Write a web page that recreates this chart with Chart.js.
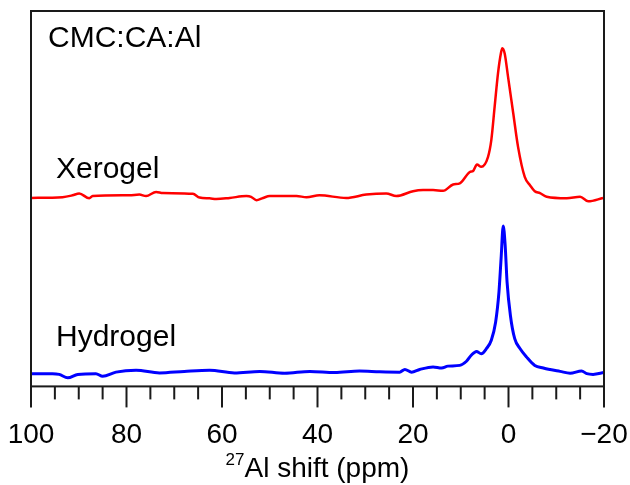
<!DOCTYPE html>
<html>
<head>
<meta charset="utf-8">
<script src="https://cdn.jsdelivr.net/npm/chart.js@4.4.1/dist/chart.umd.min.js"></script>
<style>
  html, body { margin: 0; padding: 0; background: #fff; }
  #wrap { width: 630px; height: 485px; }
</style>
</head>
<body>
<div id="wrap"><canvas id="NmrChart" width="630" height="485"></canvas></div>
<script>
// 27Al shift (ppm) and intensity (a.u., stacked, hydrogel at bottom)
var xeroShift = [100.3, 93.4, 91.3, 89.9, 87.8, 87.1, 79.4, 77.3, 75.9, 73.8, 72.4, 66.1, 64.7, 62.6, 61.2, 58.4,
  54.9, 53.9, 52.8, 51.4, 50.0, 44.4, 42.3, 39.6, 34.0, 29.8, 25.6, 23.5, 20.0, 17.9, 15.8, 13.7, 11.6, 10.2,
  8.1, 7.4, 6.6, 5.7, 4.3, 3.6, 2.9, 2.2, 1.6, 1.3, 0.8, 0.1, -1.0, -2.0, -3.4, -4.5, -5.5, -6.6, -8.0,
  -12.2, -15.0, -16.7, -19.8];
var xeroInt = [50.2, 50.4, 50.9, 51.4, 50.1, 50.7, 50.9, 51.1, 50.7, 51.8, 51.5, 51.3, 50.3, 50.1, 49.9, 50.2,
  50.7, 50.5, 49.6, 50.2, 50.7, 50.7, 50.4, 50.9, 50.2, 51.1, 51.4, 50.7, 52.0, 52.3, 52.3, 52.1, 53.8, 54.1,
  57.1, 57.4, 59.1, 58.5, 61.1, 65.6, 74.5, 83.4, 88.7, 90.1, 88.7, 82.5, 72.7, 63.8, 55.8, 53.6, 52.0, 51.5, 50.5,
  50.1, 50.5, 49.3, 50.2];

var hydroShift = [100, 95.5, 94.1, 92.3, 90.2, 86.4, 85.0, 82.2, 78.0, 73.1, 67.9, 62.6, 57.4, 52.1, 46.9, 41.6,
  36.4, 31.2, 27.0, 22.8, 21.7, 20.3, 18.6, 15.8, 14.0, 12.7, 10.2, 8.8, 7.8, 6.7, 5.7, 4.6, 3.6, 2.7, 2.0,
  1.55, 1.1, 0.7, 0.3, -0.4, -1.3, -2.4, -3.8, -5.5, -7.3, -8.7, -10.8, -12.9, -15.3, -16.4, -17.7, -20];
var hydroInt = [3.4, 3.4, 3.2, 2.3, 3.2, 3.4, 2.7, 3.8, 4.3, 3.6, 4.0, 4.3, 3.6, 4.0, 3.5, 4.0,
  3.7, 4.1, 3.9, 3.8, 4.5, 3.8, 4.5, 5.2, 4.9, 5.4, 5.6, 6.7, 8.3, 9.3, 8.7, 10.1, 12.3, 17.1, 25.1,
  34.1, 42.7, 37.6, 27.8, 18.9, 12.7, 10.1, 7.8, 5.6, 4.9, 4.5, 4.0, 3.5, 4.1, 3.4, 3.2, 3.7];

var majorTicks = [100, 80, 60, 40, 20, 0, -20];

function toPoints(xs, ys) {
  return xs.map(function (x, i) { return { x: x, y: ys[i] }; });
}

Chart.defaults.font.family = "'Liberation Sans', Arial, sans-serif";
Chart.defaults.color = "#000";

// frame, tick marks and the axis title with superscript
var framePlugin = {
  id: "frame",
  afterDraw: function (chart) {
    var ctx = chart.ctx;
    var a = chart.chartArea;
    var xs = chart.scales.x;
    ctx.save();
    ctx.strokeStyle = "#1a1a1a";
    ctx.lineWidth = 2;
    ctx.strokeRect(a.left, a.top, a.right - a.left, a.bottom - a.top);
    xs.ticks.forEach(function (t) {
      var px = xs.getPixelForValue(t.value);
      var len = majorTicks.indexOf(t.value) >= 0 ? 21 : 13;
      ctx.beginPath();
      ctx.moveTo(px, a.bottom);
      ctx.lineTo(px, a.bottom + len);
      ctx.stroke();
    });

    // axis title
    var sup = "27", main = "Al shift (ppm)";
    ctx.fillStyle = "#000";
    ctx.textBaseline = "alphabetic";
    ctx.font = "17px 'Liberation Sans', Arial, sans-serif";
    var wSup = ctx.measureText(sup).width;
    ctx.font = "28px 'Liberation Sans', Arial, sans-serif";
    var wMain = ctx.measureText(main).width;
    var x0 = (a.left + a.right) / 2 - (wSup + wMain) / 2;
    ctx.fillText(main, x0 + wSup, 477);
    ctx.font = "17px 'Liberation Sans', Arial, sans-serif";
    ctx.fillText(sup, x0, 465);

    // sample labels
    ctx.font = "30px 'Liberation Sans', Arial, sans-serif";
    ctx.fillText("CMC:CA:Al", 48, 47);
    ctx.fillText("Xerogel", 56, 178);
    ctx.fillText("Hydrogel", 56, 346);
    ctx.restore();
  }
};

var ctx = document.getElementById("NmrChart").getContext("2d");
var chart = new Chart(ctx, {
  type: "line",
  data: {
    datasets: [
      {
        label: "Xerogel",
        data: toPoints(xeroShift, xeroInt),
        borderColor: "rgb(255, 0, 0)",
        borderWidth: 2.5,
        pointRadius: 0,
        cubicInterpolationMode: "monotone",
      },
      {
        label: "Hydrogel",
        data: toPoints(hydroShift, hydroInt),
        borderColor: "rgb(0, 0, 255)",
        borderWidth: 3,
        pointRadius: 0,
        cubicInterpolationMode: "monotone",
      },
    ],
  },
  options: {
    responsive: false,
    animation: false,
    layout: {
      padding: { left: 31, right: 26, top: 11, bottom: 33 },
    },
    plugins: {
      legend: { display: false },
      tooltip: { enabled: false },
    },
    scales: {
      x: {
        type: "linear",
        reverse: true,
        min: -20,
        max: 100,
        border: { display: false },
        grid: { display: false, drawTicks: true, tickLength: 32 },
        ticks: {
          stepSize: 5,
          autoSkip: false,
          maxRotation: 0,
          padding: 0,
          font: { size: 28 },
          callback: function (v) {
            if (majorTicks.indexOf(v) < 0) return "";
            return v < 0 ? "\u2212" + Math.abs(v) : String(v);
          },
        },
      },
      y: {
        display: false,
        min: 0,
        max: 100,
      },
    },
  },
  plugins: [framePlugin],
});
</script>
</body>
</html>
